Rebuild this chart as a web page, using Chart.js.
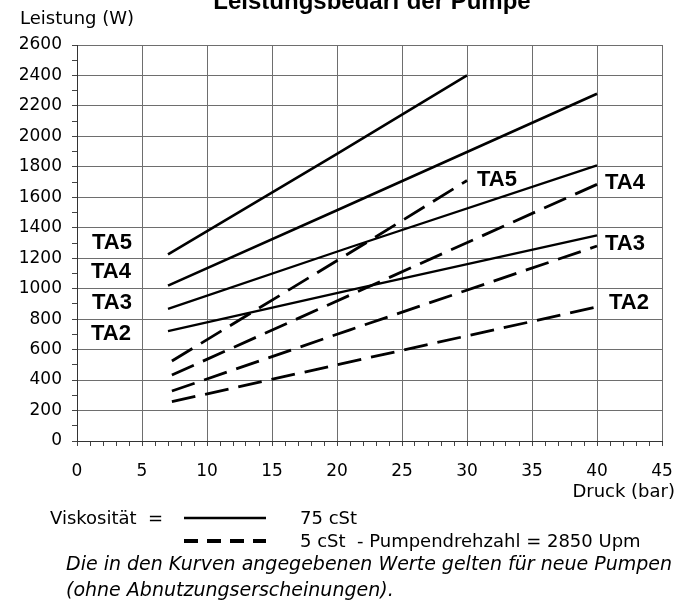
<!DOCTYPE html>
<html>
<head>
<meta charset="utf-8">
<script src="https://cdn.jsdelivr.net/npm/chart.js@4.4.0/dist/chart.umd.min.js"></script>
<style>
  html, body { margin: 0; padding: 0; background: #ffffff; }
  #wrap { width: 692px; height: 602px; position: relative; }
</style>
</head>
<body>
<div id="wrap"><canvas id="chart" width="692" height="602"></canvas></div>
<script>
// ---- data ----
// pressure (bar) and power (W) for each curve
const druck75TA5 = [7, 20, 30];
const leistung75TA5 = [1225, 1885, 2400];
const druck75TA4 = [7, 20, 40];
const leistung75TA4 = [1020, 1515, 2280];
const druck75TA3 = [7, 21, 40];
const leistung75TA3 = [868, 1272, 1810];
const druck75TA2 = [7, 21, 40];
const leistung75TA2 = [722, 990, 1350];

const druck5TA5 = [7.3, 20.5, 30];
const leistung5TA5 = [525, 1210, 1710];
const druck5TA4 = [7.3, 22, 40];
const leistung5TA4 = [433, 996, 1685];
const druck5TA3 = [7.3, 21, 40];
const leistung5TA3 = [328, 730, 1280];
const druck5TA2 = [7.3, 20.4, 40];
const leistung5TA2 = [258, 508, 880];

const xTickValues = [0, 5, 10, 15, 20, 25, 30, 35, 40, 45];
const yTickValues = [0, 200, 400, 600, 800, 1000, 1200, 1400, 1600, 1800, 2000, 2200, 2400, 2600];

const curveLabels = ['TA5', 'TA4', 'TA3', 'TA2'];
const titleText = 'Leistungsbedarf der Pumpe';
const yTitle = 'Leistung (W)';
const xTitle = 'Druck (bar)';
const legendPrefix = 'Viskosität  =';
const legendSolid = '75 cSt';
const legendDashed = '5 cSt  - Pumpendrehzahl = 2850 Upm';
const noteLines = ['Die in den Kurven angegebenen Werte gelten für neue Pumpen', '(ohne Abnutzungserscheinungen).'];

function pts(xs, ys) { return xs.map((x, i) => ({ x: x, y: ys[i] })); }

const solidStyle = { borderColor: '#000', borderWidth: 2.6, pointRadius: 0, showLine: true, fill: false, tension: 0 };
const dashStyle = { borderColor: '#000', borderWidth: 2.8, pointRadius: 0, showLine: true, fill: false, tension: 0, borderDash: [24, 10] };

const datasets = [
  Object.assign({ label: '75 cSt TA5', data: pts(druck75TA5, leistung75TA5) }, solidStyle),
  Object.assign({ label: '75 cSt TA4', data: pts(druck75TA4, leistung75TA4) }, solidStyle),
  Object.assign({ label: '75 cSt TA3', data: pts(druck75TA3, leistung75TA3) }, solidStyle, { borderWidth: 2.3 }),
  Object.assign({ label: '75 cSt TA2', data: pts(druck75TA2, leistung75TA2) }, solidStyle, { borderWidth: 2.3 }),
  Object.assign({ label: '5 cSt TA5', data: pts(druck5TA5, leistung5TA5) }, dashStyle),
  Object.assign({ label: '5 cSt TA4', data: pts(druck5TA4, leistung5TA4) }, dashStyle),
  Object.assign({ label: '5 cSt TA3', data: pts(druck5TA3, leistung5TA3) }, dashStyle),
  Object.assign({ label: '5 cSt TA2', data: pts(druck5TA2, leistung5TA2) }, dashStyle)
];

const TXT = '"DejaVu Sans", sans-serif';
const BOLD = '"Liberation Sans", Arial, sans-serif';

const textPlugin = {
  id: 'texts',
  afterDraw(chart) {
    const ctx = chart.ctx;
    ctx.save();
    ctx.fillStyle = '#000';
    // title (cut at top)
    ctx.font = 'bold 24px ' + BOLD;
    ctx.textAlign = 'center';
    ctx.textBaseline = 'alphabetic';
    ctx.fillText(titleText, 372, 9);
    // axis titles
    ctx.font = '18px ' + TXT;
    ctx.textAlign = 'left';
    ctx.textBaseline = 'middle';
    ctx.fillText(yTitle, 20, 19);
    ctx.textAlign = 'right';
    ctx.fillText(xTitle, 675, 492);
    // curve labels
    ctx.font = 'bold 22px ' + BOLD;
    ctx.textAlign = 'left';
    const leftPos = [[92, 243], [91, 272], [92, 303], [91, 334]];
    const rightPos = [[477, 180], [605, 183], [605, 244], [609, 303]];
    curveLabels.forEach((t, i) => {
      ctx.fillText(t, leftPos[i][0], leftPos[i][1]);
      ctx.fillText(t, rightPos[i][0], rightPos[i][1]);
    });
    // legend
    ctx.font = '18px ' + TXT;
    ctx.fillText(legendPrefix, 50, 519);
    ctx.fillText(legendSolid, 300, 519);
    ctx.fillText(legendDashed, 300, 542);
    ctx.strokeStyle = '#000';
    ctx.lineWidth = 2.6;
    ctx.setLineDash([]);
    ctx.beginPath(); ctx.moveTo(184, 518); ctx.lineTo(266, 518); ctx.stroke();
    ctx.lineWidth = 4;
    ctx.setLineDash([14, 9]);
    ctx.beginPath(); ctx.moveTo(184, 541); ctx.lineTo(266, 541); ctx.stroke();
    ctx.setLineDash([]);
    // notes
    ctx.font = 'italic 19px ' + TXT;
    ctx.fillText(noteLines[0], 66, 565);
    ctx.fillText(noteLines[1], 66, 591);
    ctx.restore();
  }
};

new Chart(document.getElementById('chart'), {
  type: 'scatter',
  data: { datasets: datasets },
  options: {
    responsive: false,
    animation: false,
    devicePixelRatio: 1,
    layout: { padding: { top: 45, right: 30, left: 0, bottom: 116 } },
    plugins: { legend: { display: false }, tooltip: { enabled: false }, title: { display: false } },
    scales: {
      x: {
        type: 'linear', min: 0, max: 45,
        afterFit: (s) => { s.height = 45; },
        ticks: {
          stepSize: 1, autoSkip: false, maxRotation: 0, padding: 15, color: '#000',
          font: { family: TXT, size: 17 },
          callback: (v) => xTickValues.includes(v) ? String(v) : ''
        },
        grid: {
          color: (c) => (c.tick && xTickValues.includes(c.tick.value)) ? '#6e6e6e' : 'rgba(0,0,0,0)',
          tickColor: '#444', tickLength: 5, lineWidth: 1
        },
        border: { color: '#333', width: 1 }
      },
      y: {
        type: 'linear', min: 0, max: 2600,
        afterFit: (s) => { s.width = 77; },
        ticks: {
          stepSize: 100, autoSkip: false, padding: 10, color: '#000',
          font: { family: TXT, size: 17 },
          callback: (v) => yTickValues.includes(v) ? String(v) : ''
        },
        grid: {
          color: (c) => (c.tick && yTickValues.includes(c.tick.value)) ? '#6e6e6e' : 'rgba(0,0,0,0)',
          tickColor: '#444', tickLength: 5, lineWidth: 1
        },
        border: { color: '#333', width: 1 }
      }
    }
  },
  plugins: [textPlugin]
});
</script>
</body>
</html>
